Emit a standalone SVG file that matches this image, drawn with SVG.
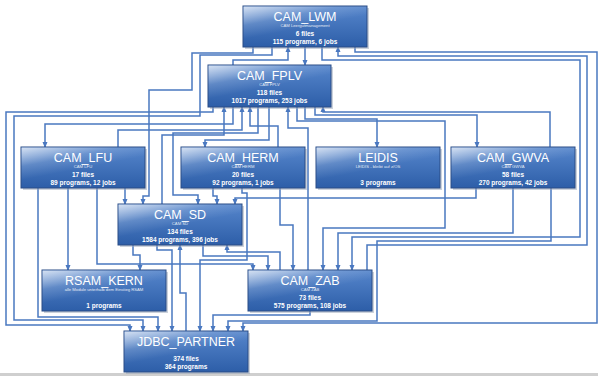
<svg xmlns="http://www.w3.org/2000/svg" width="598" height="376" viewBox="0 0 598 376">
<defs>
<linearGradient id="fill" x1="0" y1="0" x2="0" y2="1">
<stop offset="0" stop-color="#5686cc"/>
<stop offset="1" stop-color="#2d5ea8"/>
</linearGradient>
<linearGradient id="gloss" x1="0" y1="0" x2="0.6" y2="1">
<stop offset="0" stop-color="#ffffff" stop-opacity="0.75"/>
<stop offset="0.35" stop-color="#ffffff" stop-opacity="0.15"/>
<stop offset="0.6" stop-color="#ffffff" stop-opacity="0"/>
</linearGradient>
<marker id="ah" markerWidth="6" markerHeight="6" refX="5" refY="3" orient="auto" markerUnits="userSpaceOnUse">
<path d="M0,0.5 L6,3 L0,5.5 z" fill="#4a78c0"/>
</marker>
<style>
.box{fill:url(#fill);stroke:#2a4c86;stroke-width:1}
.gl{fill:url(#gloss)}
.sh{fill:#9aa6b8;opacity:0.5}
.t{font-family:"Liberation Sans",Arial,sans-serif;fill:#ffffff;text-anchor:middle}
.ti{font-size:12.5px}
.sub{font-size:4.2px;opacity:0.85}
.st{font-size:6.5px;font-weight:bold}
.c{fill:none;stroke:#4a78c0;stroke-width:1.5;marker-end:url(#ah)}
</style>
</defs>
<rect width="598" height="376" fill="#ffffff"/>
<rect x="0" y="373" width="598" height="3" fill="#cfcfcf"/>
<g id="connectors">
<polyline class="c" points="305,47 305,65"/>
<polyline class="c" points="322,47 322,60 580,60 580,237 352,237 352,270"/>
<polyline class="c" points="367,270 367,245 587,245 587,56 338,56 338,47"/>
<polyline class="c" points="355,47 355,52 597,52 597,323 243,323 243,331"/>
<polyline class="c" points="233,65 233,60 288,60 288,47"/>
<polyline class="c" points="253,47 253,53 192,53 192,90 149,90 149,196 143,196 143,204"/>
<polyline class="c" points="213,107 213,112 6,112 6,325 130,325 130,331"/>
<polyline class="c" points="272,47 272,55 200,55 200,116 14,116 14,320 143,320 143,331"/>
<polyline class="c" points="38,188 38,317 158,317 158,331"/>
<polyline class="c" points="233,107 233,124 45,124 45,147"/>
<polyline class="c" points="118,147 118,130 242,130 242,107"/>
<polyline class="c" points="162,204 162,135 224,135 224,107"/>
<polyline class="c" points="269,107 269,140 205,140 205,147"/>
<polyline class="c" points="278,147 278,126 250,126 250,107"/>
<polyline class="c" points="308,270 308,128 288,128 288,107"/>
<polyline class="c" points="305,107 305,119 377,119 377,147"/>
<polyline class="c" points="315,107 315,115 477,115 477,147"/>
<polyline class="c" points="550,147 550,112 323,112 323,107"/>
<polyline class="c" points="297,107 297,121 445,121 445,228 323,228 323,270"/>
<polyline class="c" points="258,107 258,133 173,133 173,195 198,195 198,204"/>
<polyline class="c" points="213,188 213,196 217,196 217,204"/>
<polyline class="c" points="280,188 280,225 293,225 293,270"/>
<polyline class="c" points="280,270 280,252 227,252 227,245"/>
<polyline class="c" points="203,245 203,256 268,256 268,270"/>
<polyline class="c" points="157,245 157,250 172,250 172,331"/>
<polyline class="c" points="133,245 133,255 140,255 140,270"/>
<polyline class="c" points="186,331 186,293 180,293 180,245"/>
<polyline class="c" points="125,188 125,204"/>
<polyline class="c" points="68,188 68,270"/>
<polyline class="c" points="97,188 97,264 253,264 253,270"/>
<polyline class="c" points="242,188 242,193 247,193 247,260 200,260 200,331"/>
<polyline class="c" points="476,188 476,198 235,198 235,204"/>
<polyline class="c" points="513,188 513,233 338,233 338,270"/>
<polyline class="c" points="551,188 551,241 377,241 377,321 228,321 228,331"/>
<polyline class="c" points="310,311 310,315 213,315 213,331"/>
</g>
<g id="CAM_LWM">
<rect class="sh" x="245" y="8" width="124" height="41"/>
<rect class="box" x="243" y="6" width="124" height="41"/>
<rect class="gl" x="243.5" y="6.5" width="123" height="40"/>
<text class="t ti" x="305" y="21">CAM_LWM</text>
<text class="t sub" x="305" y="27">CAM Leergutmanagement</text>
<text class="t st" x="305" y="35.5">6 files</text>
<text class="t st" x="305" y="44">115 programs, 6 jobs</text>
</g>
<g id="CAM_FPLV">
<rect class="sh" x="210" y="67" width="123" height="42"/>
<rect class="box" x="208" y="65" width="123" height="42"/>
<rect class="gl" x="208.5" y="65.5" width="122" height="41"/>
<text class="t ti" x="269.5" y="80">CAM_FPLV</text>
<text class="t sub" x="269.5" y="86">CAM FPLV</text>
<text class="t st" x="269.5" y="94.5">118 files</text>
<text class="t st" x="269.5" y="103">1017 programs, 253 jobs</text>
</g>
<g id="CAM_LFU">
<rect class="sh" x="23" y="149" width="124" height="41"/>
<rect class="box" x="21" y="147" width="124" height="41"/>
<rect class="gl" x="21.5" y="147.5" width="123" height="40"/>
<text class="t ti" x="83" y="162">CAM_LFU</text>
<text class="t sub" x="83" y="168">CAM LFU</text>
<text class="t st" x="83" y="176.5">17 files</text>
<text class="t st" x="83" y="185">89 programs, 12 jobs</text>
</g>
<g id="CAM_HERM">
<rect class="sh" x="183" y="149" width="124" height="41"/>
<rect class="box" x="181" y="147" width="124" height="41"/>
<rect class="gl" x="181.5" y="147.5" width="123" height="40"/>
<text class="t ti" x="243" y="162">CAM_HERM</text>
<text class="t sub" x="243" y="168">CAM HERM</text>
<text class="t st" x="243" y="176.5">20 files</text>
<text class="t st" x="243" y="185">92 programs, 1 jobs</text>
</g>
<g id="LEIDIS">
<rect class="sh" x="318" y="149" width="124" height="41"/>
<rect class="box" x="316" y="147" width="124" height="41"/>
<rect class="gl" x="316.5" y="147.5" width="123" height="40"/>
<text class="t ti" x="378" y="161.5">LEIDIS</text>
<text class="t sub" x="378" y="167.5">LEIDIS - bleibt auf z/OS</text>
<text class="t st" x="378" y="184.5">3 programs</text>
</g>
<g id="CAM_GWVA">
<rect class="sh" x="453" y="149" width="124" height="41"/>
<rect class="box" x="451" y="147" width="124" height="41"/>
<rect class="gl" x="451.5" y="147.5" width="123" height="40"/>
<text class="t ti" x="513" y="162">CAM_GWVA</text>
<text class="t sub" x="513" y="168">CAM GWVA</text>
<text class="t st" x="513" y="176.5">58 files</text>
<text class="t st" x="513" y="185">270 programs, 42 jobs</text>
</g>
<g id="CAM_SD">
<rect class="sh" x="120" y="206" width="124" height="41"/>
<rect class="box" x="118" y="204" width="124" height="41"/>
<rect class="gl" x="118.5" y="204.5" width="123" height="40"/>
<text class="t ti" x="180" y="219">CAM_SD</text>
<text class="t sub" x="180" y="225">CAM SD</text>
<text class="t st" x="180" y="233.5">134 files</text>
<text class="t st" x="180" y="242">1584 programs, 396 jobs</text>
</g>
<g id="RSAM_KERN">
<rect class="sh" x="44" y="272" width="124" height="41"/>
<rect class="box" x="42" y="270" width="124" height="41"/>
<rect class="gl" x="42.5" y="270.5" width="123" height="40"/>
<text class="t ti" x="104" y="284.5">RSAM_KERN</text>
<text class="t sub" x="104" y="290.5">alle Module unterhalb dem Einstieg RSAM</text>
<text class="t st" x="104" y="307.5">1 programs</text>
</g>
<g id="CAM_ZAB">
<rect class="sh" x="250" y="272" width="124" height="41"/>
<rect class="box" x="248" y="270" width="124" height="41"/>
<rect class="gl" x="248.5" y="270.5" width="123" height="40"/>
<text class="t ti" x="310" y="285">CAM_ZAB</text>
<text class="t sub" x="310" y="291">CAM ZAB</text>
<text class="t st" x="310" y="299.5">73 files</text>
<text class="t st" x="310" y="308">575 programs, 108 jobs</text>
</g>
<g id="JDBC_PARTNER">
<rect class="sh" x="126" y="333" width="124" height="41"/>
<rect class="box" x="124" y="331" width="124" height="41"/>
<rect class="gl" x="124.5" y="331.5" width="123" height="40"/>
<text class="t ti" x="186" y="346">JDBC_PARTNER</text>
<text class="t st" x="186" y="360.5">374 files</text>
<text class="t st" x="186" y="368.5">364 programs</text>
</g>
</svg>
